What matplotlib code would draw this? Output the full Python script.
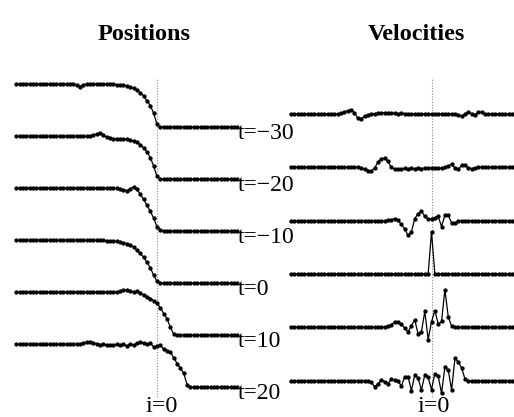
import numpy as np
import matplotlib.pyplot as plt

plt.rcParams['font.family'] = ['Liberation Serif', 'DejaVu Serif']

# lattice sites i = -42 .. 24
sites = np.arange(-42, 25)
times = ['t=\u221230', 't=\u221220', 't=\u221210', 't=0', 't=10', 't=20']

# positions (step height = 1), rows of 10 sites starting at i=-42
pos_m30 = [1, 1, 1, 1, 1, 1, 1, 1, 1, 1,
           1, 1, 1, 1, 1, 1, 1, 1, 0.98, 0.94,
           0.98, 1, 1, 1, 1, 1, 0.995, 0.995, 0.99, 0.99,
           0.985, 0.98, 0.97, 0.955, 0.93, 0.9, 0.86, 0.8, 0.72, 0.61,
           0.5, 0.32, 0.06, 0, 0, 0, 0, 0, 0, 0,
           0, 0, 0, 0, 0, 0, 0, 0, 0, 0,
           0, 0, 0, 0, 0, 0, 0]
pos_m20 = [1, 1, 1, 1, 1, 1, 1, 1, 1, 1,
           1, 1, 1, 1, 1, 1, 1, 1, 1, 1,
           1, 1, 1, 1.02, 1.05, 1.07, 1.03, 0.97, 0.95, 0.94,
           0.94, 0.93, 0.93, 0.92, 0.9, 0.88, 0.85, 0.8, 0.73, 0.63,
           0.5, 0.3, 0.06, 0, 0, 0, 0, 0, 0, 0,
           0, 0, 0, 0, 0, 0, 0, 0, 0, 0,
           0, 0, 0, 0, 0, 0, 0]
pos_m10 = [1, 1, 1, 1, 1, 1, 1, 1, 1, 1,
           1, 1, 1, 1, 1, 1, 1, 1, 1, 1,
           1, 1, 1, 1, 1, 1, 1, 1, 1, 1,
           0.99, 0.98, 0.96, 0.94, 0.98, 1.03, 0.97, 0.86, 0.74, 0.6,
           0.46, 0.3, 0.1, 0.03, 0, 0, 0, 0, 0, 0,
           0, 0, 0, 0, 0, 0, 0, 0, 0, 0,
           0, 0, 0, 0, 0, 0, 0]
pos_0 = [1, 1, 1, 1, 1, 1, 1, 1, 1, 1,
         1, 1, 1, 1, 1, 1, 1, 1, 1, 1,
         1, 1, 1, 1, 1, 1, 0.995, 0.99, 0.985, 0.98,
         0.97, 0.955, 0.94, 0.92, 0.89, 0.84, 0.77, 0.69, 0.6, 0.48,
         0.36, 0.18, 0.04, 0, 0, 0, 0, 0, 0, 0,
         0, 0, 0, 0, 0, 0, 0, 0, 0, 0,
         0, 0, 0, 0, 0, 0, 0]
pos_10 = [1, 1, 1, 1, 1, 1, 1, 1, 1, 1,
          1, 1, 1, 1, 1, 1, 1, 1, 1, 1,
          1, 1, 1, 1, 1, 1, 1, 1, 1, 1.0,
          1.01, 1.02, 1.04, 1.05, 1.02, 1.01, 1.02, 0.98, 0.93, 0.89,
          0.85, 0.8, 0.74, 0.64, 0.5, 0.38, 0.18, 0.02, 0, 0,
          0, 0, 0, 0, 0, 0, 0, 0, 0, 0,
          0, 0, 0, 0, 0, 0, 0]
pos_20 = [1, 1, 1, 1, 1, 1, 1, 1, 1, 1,
          1, 1, 1, 1, 1, 1, 1, 1, 1, 1,
          1.02, 1.05, 1.06, 1.03, 1.0, 0.99, 1.0, 0.98, 0.99, 0.97,
          1.0, 0.97, 1.0, 0.96, 1.0, 0.98, 1.02, 1.05, 1.02, 1.0,
          1.02, 0.94, 0.95, 0.98, 0.88, 0.85, 0.82, 0.68, 0.55, 0.44,
          0.32, 0.05, 0, 0, 0, 0, 0, 0, 0, 0,
          0, 0, 0, 0, 0, 0, 0]

# velocities (spike at t=0 = 1)
vel_m30 = [0, 0, 0, 0, 0, 0, 0, 0, 0, 0,
           0, 0, 0, 0, 0, 0.02, 0.05, 0.08, 0.1, 0.03,
           -0.1, -0.11, -0.05, -0.02, 0.0, 0.01, 0.02, 0.02, 0.03, 0.03,
           0.02, 0.02, 0.01, 0.02, 0.01, 0.01, 0.0, 0.01, 0.0, 0.0,
           0.01, 0.0, 0.0, 0.01, 0.0, 0.0, 0.01, 0.0, 0.0, -0.01,
           -0.03, -0.05, 0.0, 0.05, 0.01, -0.02, 0.05, 0.04, -0.01, 0.0,
           0, 0, 0, 0, 0, 0, 0]
vel_m20 = [0, 0, 0, 0, 0, 0, 0, 0, 0, 0,
           0, 0, 0, 0, 0, 0, 0, 0, 0, 0,
           0, -0.02, -0.05, -0.08, -0.08, -0.02, 0.12, 0.21, 0.22, 0.14,
           0.0, -0.04, -0.03, -0.05, -0.02, -0.04, -0.02, -0.03, -0.01, -0.03,
           -0.01, -0.02, -0.01, -0.02, -0.01, -0.02, 0.0, 0.03, 0.08, -0.02,
           -0.05, 0.05, 0.05, -0.01, -0.03, -0.01, 0, 0, 0, 0,
           0, 0, 0, 0, 0, 0, 0]
vel_m10 = [0, 0, 0, 0, 0, 0, 0, 0, 0, 0,
           0, 0, 0, 0, 0, 0, 0, 0, 0, 0,
           0, 0, 0, 0, 0, 0, 0, 0, 0, 0.01,
           0.02, 0.05, 0.01, -0.09, -0.2, -0.35, -0.27, 0.05, 0.17, 0.23,
           0.1, 0.04, 0.05, 0.07, 0.1, -0.14, 0.13, 0.13, -0.05, -0.05,
           -0.01, 0, 0, 0, 0, 0, 0, 0, 0, 0,
           0, 0, 0, 0, 0, 0, 0]
vel_0 = [0, 0, 0, 0, 0, 0, 0, 0, 0, 0,
         0, 0, 0, 0, 0, 0, 0, 0, 0, 0,
         0, 0, 0, 0, 0, 0, 0, 0, 0, 0,
         0, 0, 0, 0, 0, 0, 0, 0, 0, 0,
         0, 0, 1.0, 0, 0, 0, 0, 0, 0, 0,
         0, 0, 0, 0, 0, 0, 0, 0, 0, 0,
         0, 0, 0, 0, 0, 0, 0]
vel_10 = [0, 0, 0, 0, 0, 0, 0, 0, 0, 0,
          0, 0, 0, 0, 0, 0, 0, 0, 0, 0,
          0, 0, 0, 0, 0, 0, 0, 0, 0.01, 0.03,
          0.06, 0.13, 0.12, 0.08, -0.02, -0.11, 0.04, 0.18, -0.16, -0.1,
          0.38, -0.29, 0.13, 0.4, 0.08, 0.14, 0.9, 0.25, 0.03, 0.01,
          0, 0, 0, 0, 0, 0, 0, 0, 0, 0,
          0, 0, 0, 0, 0, 0, 0]
vel_20 = [0, 0, 0, 0, 0, 0, 0, 0, 0, 0,
          0, 0, 0, 0, 0, 0, 0, 0, 0, 0,
          0, 0, 0, -0.01, -0.04, -0.14, -0.08, 0.02, -0.02, -0.07,
          0.03, 0.02, 0.0, -0.13, 0.1, 0.1, -0.24, 0.14, 0.06, -0.22,
          0.14, 0.08, -0.21, 0.17, 0.11, -0.3, 0.33, 0.25, -0.22, 0.53,
          0.45, 0.3, 0.04, -0.01, 0.0, 0, 0, 0, 0, 0,
          0, 0, 0, 0, 0, 0, 0]

positions = [pos_m30, pos_m20, pos_m10, pos_0, pos_10, pos_20]
velocities = [vel_m30, vel_m20, vel_m10, vel_0, vel_10, vel_20]

W, H = 514, 417
fig = plt.figure(figsize=(W / 100, H / 100), dpi=100)

DX = 3.35          # pixels per site
XLIM = (-43, 24.6)
TOP, BOT = 69, 402  # pixel rows spanned by the axes


def make_axes(x0, y0, yscale):
    # x0: pixel column of i=0, y0: pixel row of value 0 of first trace
    left = x0 + XLIM[0] * DX
    width = (XLIM[1] - XLIM[0]) * DX
    ax = fig.add_axes([left / W, 1 - BOT / H, width / W, (BOT - TOP) / H])
    ax.set_xlim(*XLIM)
    ax.set_ylim((y0 - BOT) / yscale, (y0 - TOP) / yscale)
    ax.axis('off')
    ax.plot([0, 0], [(y0 - 397) / yscale, (y0 - 78) / yscale],
            ls=(0, (1, 1.5)), color='#888888', lw=0.8)
    return ax


ax1 = make_axes(157, 127, 43.0)
ax2 = make_axes(431.5, 114, 42.0)

for k in range(6):
    ax1.plot(sites, np.array(positions[k]) - 1.21 * k, '-o', color='black',
             lw=0.9, ms=2.1, clip_on=False)
    ax1.text(24.2, -1.21 * k - 0.27, times[k], fontsize=17, ha='left',
             va='baseline', clip_on=False)
    ax2.plot(sites, np.array(velocities[k]) - 1.27 * k, '-o', color='black',
             lw=0.9, ms=2.1, clip_on=False)

fig.text(144 / W, 1 - 40 / H, 'Positions', fontsize=17.5, fontweight='bold',
         ha='center', va='baseline')
fig.text(416 / W, 1 - 40 / H, 'Velocities', fontsize=17.5, fontweight='bold',
         ha='center', va='baseline')
fig.text(162 / W, 1 - 412 / H, 'i=0', fontsize=17.5, ha='center', va='baseline')
fig.text(434 / W, 1 - 412 / H, 'i=0', fontsize=17.5, ha='center', va='baseline')

fig.savefig('out.png', dpi=100)
